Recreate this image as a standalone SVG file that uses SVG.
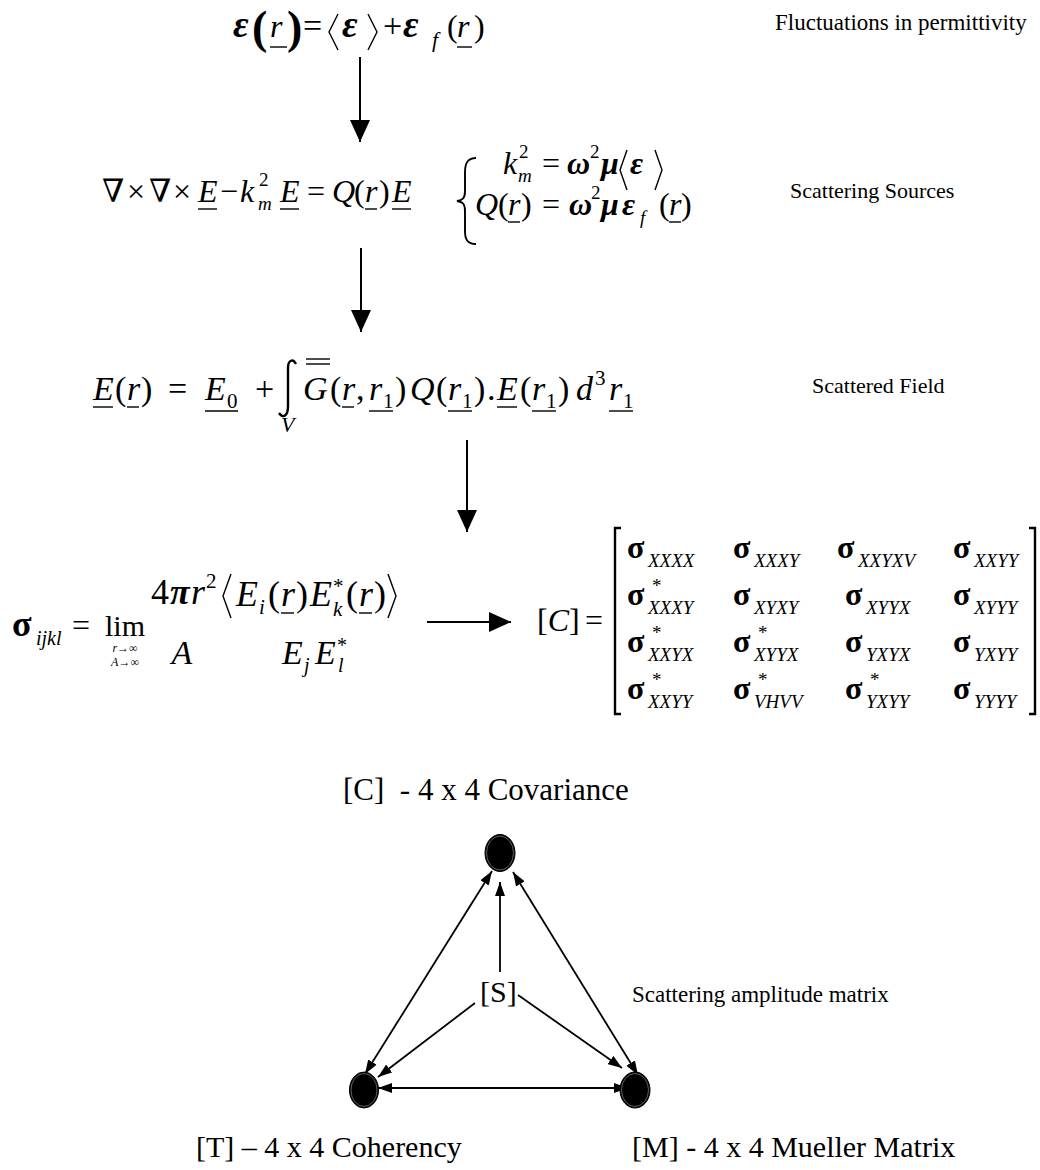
<svg xmlns="http://www.w3.org/2000/svg" width="1040" height="1170" viewBox="0 0 1040 1170">
<style>
text{font-family:"Liberation Serif","DejaVu Serif",serif;fill:#000;white-space:pre}
.i{font-style:italic}
.b{font-weight:bold}
.bi{font-style:italic;font-weight:bold}
.lbl{font-size:22px}
.ul{stroke:#000;stroke-width:1.4;fill:none}
.ab{stroke:#000;stroke-width:1.4;fill:none}
.conn{stroke:#000;stroke-width:2;fill:none}
.tri{stroke:#000;stroke-width:1.8;fill:none}
.s{font-size:32px;font-weight:bold}
.sub{font-size:19px;font-style:italic}
.st{font-size:19px}
.node{fill:#000;stroke:#000;stroke-width:1}
.ring{fill:none;stroke:#888;stroke-width:0.7}
</style>
<defs>
<marker id="big" viewBox="0 0 22 20" refX="22" refY="10" markerWidth="22" markerHeight="20" markerUnits="userSpaceOnUse" orient="auto"><path d="M0,0 L22,10 L0,20 z" fill="#000"/></marker>
<marker id="sm" viewBox="0 0 14 10" refX="14" refY="5" markerWidth="14" markerHeight="10" markerUnits="userSpaceOnUse" orient="auto-start-reverse"><path d="M0,0 L14,5 L0,10 z" fill="#000"/></marker>
</defs>
<rect width="1040" height="1170" fill="#fff"/>

<g id="eq-permittivity">
<text class="bi" x="233" y="37" font-size="38">ε</text>
<text class="b" x="252" y="43" font-size="46">(</text>
<text class="i" x="270" y="37" font-size="32">r</text>
<line class="ul" x1="270" y1="47" x2="287" y2="47"/>
<text class="b" x="287" y="43" font-size="46">)</text>
<text x="303" y="37" font-size="34">=</text>
<path class="ab" d="M338,14 L329,32 L338,50"/>
<text class="bi" x="342" y="37" font-size="38">ε</text>
<path class="ab" d="M368,14 L377,32 L368,50"/>
<text x="383" y="37" font-size="34">+</text>
<text class="bi" x="403" y="37" font-size="38">ε</text>
<text class="i" x="432" y="47" font-size="22">f</text>
<text x="447" y="37" font-size="32">(</text>
<text class="i" x="457" y="37" font-size="32">r</text>
<line class="ul" x1="457" y1="47" x2="472" y2="47"/>
<text x="474" y="37" font-size="32">)</text>
</g>
<g id="label-fluctuations"><text x="775" y="30" font-size="23">Fluctuations in permittivity</text></g>

<g id="eq-sources">
<text x="102" y="202" font-size="32">∇</text>
<text x="127" y="202" font-size="32">×</text>
<text x="149" y="202" font-size="32">∇</text>
<text x="173" y="202" font-size="32">×</text>
<text class="i" x="198" y="202" font-size="32">E</text>
<line class="ul" x1="198" y1="209" x2="217" y2="209"/>
<text x="220" y="202" font-size="32">−</text>
<text class="i" x="240" y="202" font-size="32">k</text>
<text x="259" y="186" font-size="19">2</text>
<text class="i" x="258" y="210" font-size="19">m</text>
<text class="i" x="280" y="202" font-size="32">E</text>
<line class="ul" x1="280" y1="209" x2="299" y2="209"/>
<text x="307" y="202" font-size="32">=</text>
<text class="i" x="332" y="202" font-size="32">Q</text>
<text x="354" y="202" font-size="32">(</text>
<text class="i" x="365" y="202" font-size="32">r</text>
<line class="ul" x1="365" y1="209" x2="377" y2="209"/>
<text x="379" y="202" font-size="32">)</text>
<text class="i" x="392" y="202" font-size="32">E</text>
<line class="ul" x1="392" y1="209" x2="411" y2="209"/>
<path d="M476,158 C467,158 465,164 465,172 L465,191 C465,198 463,200 457,201 C463,202 465,204 465,211 L465,231 C465,239 467,244 476,244" stroke="#000" stroke-width="1.9" fill="none"/>
<text class="i" x="503" y="174" font-size="32">k</text>
<text x="519" y="158" font-size="19">2</text>
<text class="i" x="518" y="182" font-size="19">m</text>
<text x="542" y="174" font-size="32">=</text>
<text class="bi" x="567" y="174" font-size="32">ω</text>
<text x="590" y="158" font-size="19">2</text>
<text class="bi" x="601" y="174" font-size="32">μ</text>
<path class="ab" d="M627,150 L620,170 L627,190"/>
<text class="bi" x="630" y="174" font-size="32">ε</text>
<path class="ab" d="M655,150 L662,170 L655,190"/>
<text class="i" x="475" y="215" font-size="32">Q</text>
<text x="498" y="215" font-size="32">(</text>
<text class="i" x="508" y="215" font-size="32">r</text>
<line class="ul" x1="508" y1="222" x2="520" y2="222"/>
<text x="521" y="215" font-size="32">)</text>
<text x="542" y="215" font-size="32">=</text>
<text class="bi" x="569" y="215" font-size="32">ω</text>
<text x="591" y="199" font-size="19">2</text>
<text class="bi" x="601" y="215" font-size="32">μ</text>
<text class="bi" x="622" y="215" font-size="32">ε</text>
<text class="i" x="640" y="224" font-size="19">f</text>
<text x="659" y="215" font-size="32">(</text>
<text class="i" x="669" y="215" font-size="32">r</text>
<line class="ul" x1="669" y1="222" x2="681" y2="222"/>
<text x="681" y="215" font-size="32">)</text>
</g>
<g id="label-sources"><text class="lbl" x="790" y="198">Scattering Sources</text></g>

<g id="eq-field">
<text class="i" x="93" y="400" font-size="34">E</text>
<line class="ul" x1="93" y1="407" x2="113" y2="407"/>
<text x="115" y="400" font-size="34">(</text>
<text class="i" x="127" y="400" font-size="34">r</text>
<line class="ul" x1="127" y1="407" x2="139" y2="407"/>
<text x="141" y="400" font-size="34">)</text>
<text x="168" y="400" font-size="34">=</text>
<text class="i" x="205" y="400" font-size="34">E</text>
<text x="227" y="408" font-size="21">0</text>
<line class="ul" x1="205" y1="411" x2="238" y2="411"/>
<text x="255" y="400" font-size="34">+</text>
<path d="M296,364 C293,358 288,360 288,368 L288,406 C288,416 283,419 279,413" stroke="#000" stroke-width="2.4" fill="none"/>
<text class="i" x="281" y="432" font-size="22">V</text>
<text class="i" x="303" y="400" font-size="34">G</text>
<line class="ul" x1="306" y1="359" x2="330" y2="359"/>
<line class="ul" x1="306" y1="364" x2="330" y2="364"/>
<text x="330" y="400" font-size="34">(</text>
<text class="i" x="342" y="400" font-size="34">r</text>
<line class="ul" x1="342" y1="407" x2="354" y2="407"/>
<text x="356" y="400" font-size="34">,</text>
<text class="i" x="369" y="400" font-size="34">r</text>
<text x="383" y="408" font-size="21">1</text>
<line class="ul" x1="369" y1="411" x2="393" y2="411"/>
<text x="395" y="400" font-size="34">)</text>
<text class="i" x="410" y="400" font-size="34">Q</text>
<text x="436" y="400" font-size="34">(</text>
<text class="i" x="448" y="400" font-size="34">r</text>
<text x="462" y="408" font-size="21">1</text>
<line class="ul" x1="448" y1="411" x2="472" y2="411"/>
<text x="474" y="400" font-size="34">)</text>
<text x="487" y="400" font-size="34">.</text>
<text class="i" x="497" y="400" font-size="34">E</text>
<line class="ul" x1="497" y1="407" x2="517" y2="407"/>
<text x="520" y="400" font-size="34">(</text>
<text class="i" x="532" y="400" font-size="34">r</text>
<text x="546" y="408" font-size="21">1</text>
<line class="ul" x1="532" y1="411" x2="556" y2="411"/>
<text x="558" y="400" font-size="34">)</text>
<text class="i" x="576" y="400" font-size="34">d</text>
<text x="595" y="385" font-size="21">3</text>
<text class="i" x="609" y="400" font-size="34">r</text>
<text x="623" y="408" font-size="21">1</text>
<line class="ul" x1="609" y1="411" x2="633" y2="411"/>
</g>
<g id="label-field"><text class="lbl" x="812" y="393">Scattered Field</text></g>

<g id="eq-sigma">
<text class="b" x="12" y="636" font-size="36">σ</text>
<text class="i" x="36" y="645" font-size="20">ijkl</text>
<text x="72" y="636" font-size="32">=</text>
<text x="105" y="636" font-size="30">lim</text>
<text x="125" y="652" font-size="12" text-anchor="middle"><tspan class="i">r</tspan>→∞</text>
<text x="125" y="666" font-size="12" text-anchor="middle"><tspan class="i">A</tspan>→∞</text>
<text x="151" y="604" font-size="36">4</text>
<text class="bi" x="170" y="604" font-size="36">π</text>
<text class="i" x="191" y="604" font-size="36">r</text>
<text x="206" y="588" font-size="21">2</text>
<text class="i" x="182" y="664" font-size="34" text-anchor="middle">A</text>
<path class="ab" d="M231,574 L223,596 L231,618"/>
<text class="i" x="236" y="606" font-size="36">E</text>
<text class="i" x="259" y="614" font-size="21">i</text>
<text x="268" y="606" font-size="36">(</text>
<text class="i" x="281" y="606" font-size="36">r</text>
<line class="ul" x1="281" y1="613" x2="294" y2="613"/>
<text x="296" y="606" font-size="36">)</text>
<text class="i" x="310" y="606" font-size="36">E</text>
<text x="333" y="593" font-size="21">*</text>
<text class="i" x="333" y="616" font-size="21">k</text>
<text x="346" y="606" font-size="36">(</text>
<text class="i" x="359" y="606" font-size="36">r</text>
<line class="ul" x1="359" y1="613" x2="372" y2="613"/>
<text x="374" y="606" font-size="36">)</text>
<path class="ab" d="M388,574 L396,596 L388,618"/>
<text class="i" x="282" y="664" font-size="34">E</text>
<text class="i" x="304" y="672" font-size="20">j</text>
<text class="i" x="315" y="664" font-size="34">E</text>
<text x="337" y="652" font-size="20">*</text>
<text class="i" x="338" y="672" font-size="20">l</text>
</g>

<g id="eq-covariance-matrix">
<text x="537" y="631" font-size="32">[<tspan class="i">C</tspan>]</text>
<text x="585" y="631" font-size="32">=</text>
<path d="M621,528 L615,528 L615,714 L621,714" stroke="#000" stroke-width="2.4" fill="none"/>
<path d="M1029,528 L1035,528 L1035,714 L1029,714" stroke="#000" stroke-width="2.4" fill="none"/>
<text class="s" x="627" y="558">σ</text><text class="sub" x="648" y="567">XXXX</text>
<text class="s" x="733" y="558">σ</text><text class="sub" x="754" y="567">XXXY</text>
<text class="s" x="837" y="558">σ</text><text class="sub" x="858" y="567">XXYXV</text>
<text class="s" x="953" y="558">σ</text><text class="sub" x="974" y="567">XXYY</text>
<text class="s" x="627" y="605">σ</text><text class="st" x="652" y="592">*</text><text class="sub" x="648" y="614">XXXY</text>
<text class="s" x="733" y="605">σ</text><text class="sub" x="754" y="614">XYXY</text>
<text class="s" x="845" y="605">σ</text><text class="sub" x="866" y="614">XYYX</text>
<text class="s" x="953" y="605">σ</text><text class="sub" x="974" y="614">XYYY</text>
<text class="s" x="627" y="652">σ</text><text class="st" x="652" y="639">*</text><text class="sub" x="648" y="661">XXYX</text>
<text class="s" x="733" y="652">σ</text><text class="st" x="758" y="639">*</text><text class="sub" x="754" y="661">XYYX</text>
<text class="s" x="845" y="652">σ</text><text class="sub" x="866" y="661">YXYX</text>
<text class="s" x="953" y="652">σ</text><text class="sub" x="974" y="661">YXYY</text>
<text class="s" x="627" y="699">σ</text><text class="st" x="652" y="686">*</text><text class="sub" x="648" y="708">XXYY</text>
<text class="s" x="733" y="699">σ</text><text class="st" x="758" y="686">*</text><text class="sub" x="754" y="708">VHVV</text>
<text class="s" x="845" y="699">σ</text><text class="st" x="870" y="686">*</text><text class="sub" x="866" y="708">YXYY</text>
<text class="s" x="953" y="699">σ</text><text class="sub" x="974" y="708">YYYY</text>
</g>

<g id="label-covariance"><text x="343" y="800" font-size="31">[C]  - 4 x 4 Covariance</text></g>

<g id="connectors">
<line class="conn" x1="360" y1="57" x2="360" y2="142" marker-end="url(#big)"/>
<line class="conn" x1="361" y1="248" x2="361" y2="332" marker-end="url(#big)"/>
<line class="conn" x1="467" y1="440" x2="467" y2="532" marker-end="url(#big)"/>
<line class="conn" x1="427" y1="622" x2="511" y2="622" marker-end="url(#big)"/>
<line class="tri" x1="500" y1="972" x2="500" y2="882" marker-end="url(#sm)"/>
<line class="tri" x1="365" y1="1074" x2="492" y2="871" marker-start="url(#sm)" marker-end="url(#sm)"/>
<line class="tri" x1="638" y1="1075" x2="513" y2="872" marker-start="url(#sm)" marker-end="url(#sm)"/>
<line class="tri" x1="475" y1="1003" x2="378" y2="1077" marker-end="url(#sm)"/>
<line class="tri" x1="518" y1="995" x2="622" y2="1068" marker-end="url(#sm)"/>
<line class="tri" x1="628" y1="1088" x2="378" y2="1088" marker-start="url(#sm)" marker-end="url(#sm)"/>
</g>

<g id="node-covariance"><ellipse class="node" cx="500" cy="853" rx="15" ry="18.5"/><ellipse class="ring" cx="500" cy="853" rx="13.5" ry="17"/></g>
<g id="node-coherency"><ellipse class="node" cx="364" cy="1090" rx="14.5" ry="18"/><ellipse class="ring" cx="364" cy="1090" rx="13" ry="16.5"/></g>
<g id="node-mueller"><ellipse class="node" cx="635" cy="1090" rx="15" ry="18"/><ellipse class="ring" cx="635" cy="1090" rx="13.5" ry="16.5"/></g>
<g id="node-s"><text x="480" y="1002" font-size="30">[S]</text></g>
<g id="label-s"><text x="632" y="1002" font-size="23">Scattering amplitude matrix</text></g>
<g id="label-t"><text x="196" y="1157" font-size="30">[T] – 4 x 4 Coherency</text></g>
<g id="label-m"><text x="632" y="1157" font-size="30">[M] - 4 x 4 Mueller Matrix</text></g>
</svg>
